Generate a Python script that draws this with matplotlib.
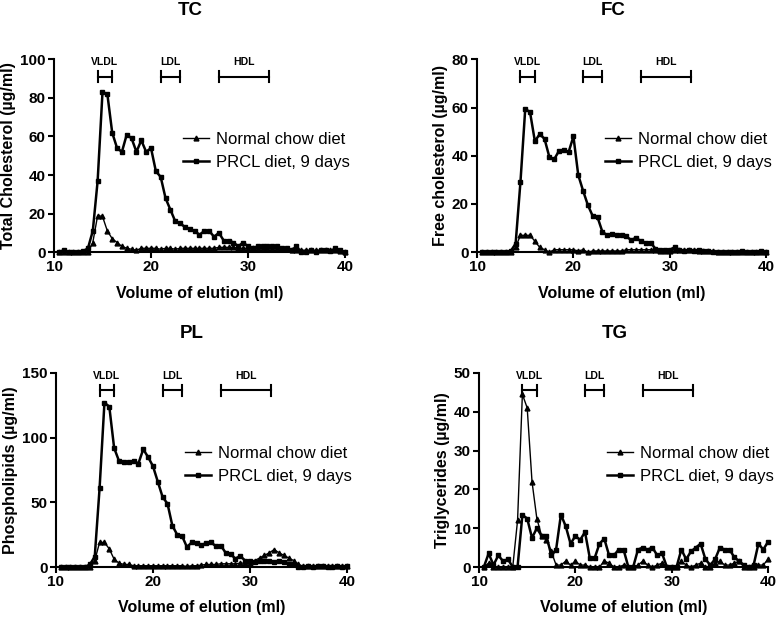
import numpy as np
import matplotlib
matplotlib.use("Agg")
import matplotlib.pyplot as plt
import matplotlib.transforms as mtransforms

plt.rcParams['font.family'] = ['Liberation Sans', 'DejaVu Sans']

# elution volume of each fraction (ml)
volume = np.arange(10.5, 40.01, 0.5)

tc_chow = [0, 0, 0, 0, 0, 0, 0, 5, 19, 18.5,
           11, 7, 5, 3, 2, 1.5, 1, 2, 2, 2,
           2, 1.5, 2, 2, 1.5, 2, 2, 2, 2, 2,
           2, 2, 2, 2.5, 2.5, 2.5, 2.5, 2, 2, 2,
           2, 2, 2, 2, 2, 2, 1.5, 1.5, 1, 1,
           1, 1, 1, 1, 1, 1, 1, 1, 0.5, 0]
tc_prcl = [0, 1, 0, 0, 0, 0.5, 2, 11, 37, 83,
           82, 62, 54, 52, 61, 59, 52, 58, 52, 54,
           42, 39, 28, 22, 16, 15, 13, 12, 11, 9,
           11, 11, 8, 10, 6, 6, 5, 3, 5, 3,
           2, 3, 3, 3, 3, 3, 2, 2, 1, 3,
           0, 0, 1, 0, 1, 1, 0.5, 2, 1, 0]

fc_chow = [0, 0, 0, 0, 0, 0, 0, 2, 7, 7,
           7, 4.5, 2, 1, 0, 1, 1, 1, 1, 1,
           0.5, 1, 0, 0.5, 0.5, 0.5, 0.5, 0.5, 0.5, 0.5,
           1, 1, 1, 1, 1, 1, 1, 0.5, 0.5, 0.5,
           1, 1, 1, 1, 1, 0.5, 0.5, 0.5, 0.5, 0,
           0, 0, 0, 0, 0, 0, 0, 0, 0, 0]
fc_prcl = [0, 0, 0, 0, 0, 0, 0.5, 3.5, 29, 59.5,
           58, 46, 49, 47, 39.5, 38.5, 42, 42.5, 41.5, 48,
           32, 25.5, 19.5, 15, 14.5, 8.5, 7, 7.5, 7, 7,
           6.5, 5, 6, 4.5, 4, 4, 1.5, 1, 1, 1,
           2, 1, 0.5, 1, 0.5, 1, 0.5, 0.5, 0, 0,
           0, 0, 0, 0, 0.5, 0, 0, 0, 0.5, 0]

pl_chow = [0, 0, 0, 0, 0, 0, 0, 5, 19, 19,
           14, 6, 3, 2, 2, 1, 1, 1, 1, 1,
           1, 1, 1, 1, 1, 1, 0.5, 1, 1, 1.5,
           2, 2, 2, 2.5, 2.5, 2.5, 2.5, 3, 3, 3,
           5, 7, 9, 11, 13.5, 11, 9, 7, 5, 2,
           0.5, 0.5, 0.5, 0.5, 0.5, 0.5, 0.5, 0.5, 0.5, 0.5]
pl_prcl = [0, 0, 0, 0, 0, 0, 2, 8, 61, 127,
           124, 92, 82, 81, 81, 82, 80, 91, 85, 78,
           66, 54, 49, 32, 25, 24, 15.5, 19, 18.5, 17,
           18.5, 19, 16, 16.5, 11, 10, 6.5, 8.5, 5, 4.5,
           4, 5, 5, 5, 4, 5, 4, 2, 2, 0,
           0, 1, 0, 1, 0.5, 0, 0, 1, 0, 1]

tg_chow = [0, 1, 0, 0, 0, 0, 0, 12, 44.5, 41,
           22, 12.5, 8, 7, 4, 0.5, 0.5, 1.5, 0.5, 1.5,
           0.5, 0.5, 0, 0, 0, 1.5, 1, 0, 0, 0.5,
           0, 0, 0.5, 1.5, 0.5, 0, 0.5, 1, 0, 0,
           0, 1.5, 0.5, 0, 0.5, 1, 0, 0, 1, 1.5,
           0.5, 0.5, 1, 1.5, 0, 0, 0, 0.5, 0.5, 2]
tg_prcl = [0, 3.5, 0.5, 3, 1.5, 2, 0, 0, 13.4, 12.5,
           7.5, 10, 8, 8, 3, 4.5, 13.5, 10.5, 6, 8,
           7, 9, 2.3, 2.3, 6, 7.3, 3, 3, 4.5, 4.5,
           0, 0, 4.5, 5, 4.5, 5, 3, 3.5, 0, 0,
           0, 4.5, 2, 4, 5, 6, 2, 0.5, 2, 5,
           4.5, 4.5, 2.5, 1.5, 0.5, 0, 0.5, 6, 4.5, 6.5]

# lipoprotein elution ranges (ml)
fractions = ['VLDL', 'LDL', 'HDL']
frac_start = [14.5, 21, 27]
frac_end = [16, 23, 32.2]

panels = [
    ('TC', 'Total Cholesterol (\u00b5g/ml)', tc_chow, tc_prcl, 100, 20,
     [0.0695, 0.592, 0.3745, 0.312], (0.245, 0.983)),
    ('FC', 'Free cholesterol (\u00b5g/ml)', fc_chow, fc_prcl, 80, 20,
     [0.614, 0.592, 0.372, 0.312], (0.789, 0.983)),
    ('PL', 'Phospholipids (\u00b5g/ml)', pl_chow, pl_prcl, 150, 50,
     [0.072, 0.0825, 0.3745, 0.314], (0.247, 0.461)),
    ('TG', 'Triglycerides (\u00b5g/ml)', tg_chow, tg_prcl, 50, 10,
     [0.6165, 0.0825, 0.372, 0.314], (0.791, 0.461)),
]

fig = plt.figure(figsize=(7.77, 6.18), dpi=100)

for title, ylab, chow, prcl, ymax, ystep, pos, tpos in panels:
    ax = fig.add_axes(pos)
    ax.plot(volume, chow, color='black', lw=1.0, marker='^', ms=3.5,
            clip_on=False, label='Normal chow diet', zorder=3)
    ax.plot(volume, prcl, color='black', lw=1.8, marker='s', ms=2.8,
            clip_on=False, label='PRCL diet, 9 days', zorder=4)
    ax.set_xlim(10, 40)
    ax.set_ylim(0, ymax)
    ax.set_xticks([10, 20, 30, 40])
    ax.set_yticks(np.arange(0, ymax + 1, ystep))
    for s in ['top', 'right']:
        ax.spines[s].set_visible(False)
    for s in ['left', 'bottom']:
        ax.spines[s].set_linewidth(1.5)
    ax.tick_params(direction='out', length=4, width=1.5, pad=2,
                   labelsize=11)
    for lab in ax.get_xticklabels() + ax.get_yticklabels():
        lab.set_fontweight('bold')
    ax.set_xlabel('Volume of elution (ml)', fontsize=11.5,
                  fontweight='bold', labelpad=8)
    ax.set_ylabel(ylab, fontsize=11.5, fontweight='bold', labelpad=3)
    fig.text(tpos[0], tpos[1], title, fontsize=13.5, fontweight='bold',
             ha='center', va='center')

    trans = mtransforms.blended_transform_factory(ax.transData, ax.transAxes)
    for name, x0, x1 in zip(fractions, frac_start, frac_end):
        ax.plot([x0, x1], [0.91, 0.91], color='black', lw=1.5,
                transform=trans, clip_on=False)
        for xc in (x0, x1):
            ax.plot([xc, xc], [0.88, 0.94], color='black', lw=1.5,
                    transform=trans, clip_on=False)
        ax.text((x0 + x1) / 2, 0.985, name, transform=trans, fontsize=7.5,
                fontweight='bold', ha='center', va='center')

    ax.legend(loc='center left', bbox_to_anchor=(0.42, 0.525),
              frameon=False, fontsize=12, handlelength=1.55,
              handletextpad=0.45, labelspacing=0.5, borderaxespad=0)

fig.savefig('out.png', dpi=100)
